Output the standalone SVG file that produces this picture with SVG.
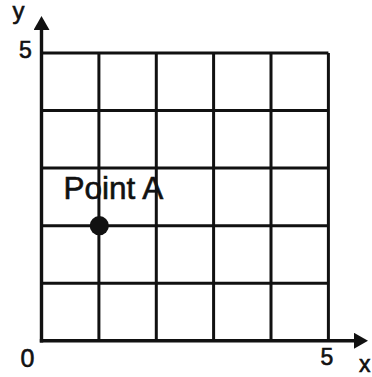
<svg xmlns="http://www.w3.org/2000/svg" width="372" height="377" viewBox="0 0 372 377">
  <style>
    .grid { stroke: #111; stroke-width: 3; fill: none; }
    .axis { stroke: #111; stroke-width: 3.4; fill: none; }
    .lbl { font-family: "Liberation Sans", Arial, sans-serif; fill: #111; stroke: #111; stroke-width: 0.6; }
  </style>
  <defs>
    <marker id="arr" viewBox="0 0 14 16" refX="0" refY="8" markerWidth="14" markerHeight="16" markerUnits="userSpaceOnUse" orient="auto">
      <path d="M0,0 L14,8 L0,16 Z" fill="#111"/>
    </marker>
  </defs>
  <rect width="372" height="377" fill="#fff"/>
  <g id="grid" class="grid">
    <line x1="98.9" y1="53" x2="98.9" y2="340.8"/>
    <line x1="156.3" y1="53" x2="156.3" y2="340.8"/>
    <line x1="213.6" y1="53" x2="213.6" y2="340.8"/>
    <line x1="271" y1="53" x2="271" y2="340.8"/>
    <line x1="328.4" y1="53" x2="328.4" y2="340.8"/>
    <line x1="41.5" y1="53" x2="328.4" y2="53"/>
    <line x1="41.5" y1="110.6" x2="328.4" y2="110.6"/>
    <line x1="41.5" y1="168.1" x2="328.4" y2="168.1"/>
    <line x1="41.5" y1="225.7" x2="328.4" y2="225.7"/>
    <line x1="41.5" y1="283.2" x2="328.4" y2="283.2"/>
  </g>
  <g id="connectors">
    <line id="y-axis" class="axis" x1="41.5" y1="342.5" x2="41.5" y2="30" marker-end="url(#arr)"/>
    <line id="x-axis" class="axis" x1="39.8" y1="340.8" x2="354" y2="340.8" marker-end="url(#arr)"/>
  </g>
  <g id="point-a">
    <circle cx="99.3" cy="225.7" r="9.6" fill="#111"/>
    <text class="lbl" x="63.5" y="199.3" font-size="31.5">Point A</text>
  </g>
  <g id="labels">
    <text class="lbl" x="12.5" y="18.5" font-size="24">y</text>
    <text class="lbl" x="19" y="58.3" font-size="23">5</text>
    <text class="lbl" x="20.5" y="366.7" font-size="25">0</text>
    <text class="lbl" x="320.5" y="365" font-size="23">5</text>
    <text class="lbl" x="359" y="372" font-size="23">x</text>
  </g>
</svg>
